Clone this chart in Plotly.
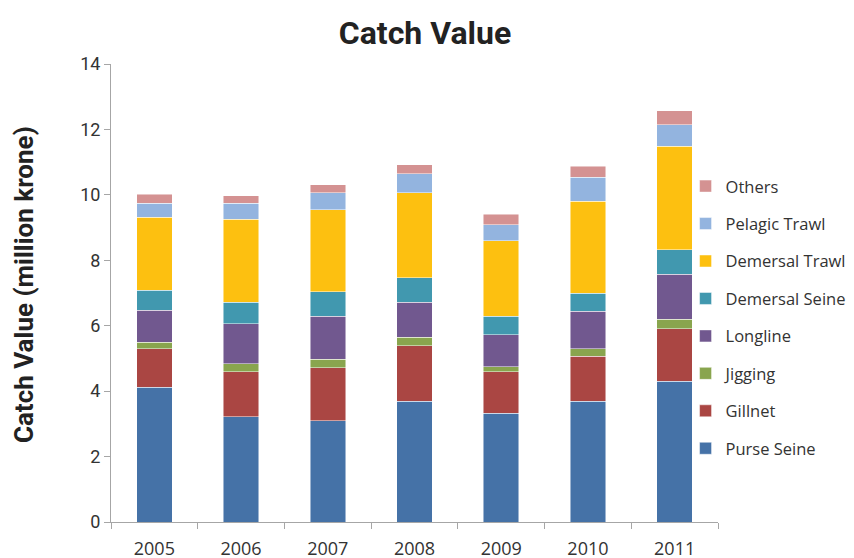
import plotly.graph_objects as go

years = ["2005", "2006", "2007", "2008", "2009", "2010", "2011"]

purse_seine    = [4.12, 3.22, 3.09, 3.69, 3.32, 3.69, 4.30]
gillnet        = [1.18, 1.38, 1.63, 1.70, 1.28, 1.38, 1.61]
jigging        = [0.20, 0.23, 0.26, 0.25, 0.14, 0.23, 0.29]
longline       = [0.97, 1.23, 1.31, 1.08, 0.99, 1.14, 1.37]
demersal_seine = [0.62, 0.65, 0.75, 0.75, 0.56, 0.56, 0.75]
demersal_trawl = [2.23, 2.55, 2.51, 2.60, 2.31, 2.80, 3.16]
pelagic_trawl  = [0.43, 0.49, 0.52, 0.57, 0.48, 0.74, 0.67]
others         = [0.27, 0.23, 0.24, 0.28, 0.33, 0.34, 0.42]

series = [
    ("Purse Seine", purse_seine, "#4572A7"),
    ("Gillnet", gillnet, "#AA4643"),
    ("Jigging", jigging, "#89A54E"),
    ("Longline", longline, "#71588F"),
    ("Demersal Seine", demersal_seine, "#4198AF"),
    ("Demersal Trawl", demersal_trawl, "#FDC010"),
    ("Pelagic Trawl", pelagic_trawl, "#93B4DF"),
    ("Others", others, "#D49292"),
]

BOLD = "Roboto, Liberation Sans, Arial, sans-serif"
REG = "Open Sans, Liberation Sans, Arial, sans-serif"

# page body has an 8px default margin; layout pixel positions compensate for it
OFF = 8
PL, PR, PT, PB = 111 - OFF, 718.6 - OFF, 64 - OFF, 522 - OFF
PW, PH = PR - PL, PB - PT

fig = go.Figure()
n = len(series)
for i, (name, vals, color) in enumerate(series):
    fig.add_trace(go.Bar(
        x=years, y=vals, name=name, legendgroup=name, legendrank=n - i,
        marker=dict(color=color, line=dict(color="rgba(255,255,255,0.6)", width=0.8)),
    ))

fig.update_layout(
    barmode="stack",
    bargap=0.59,
    width=854, height=558,
    margin=dict(l=PL, r=854 - PR, t=PT, b=558 - PB),
    paper_bgcolor="white", plot_bgcolor="white",
    title=dict(text="<b>Catch Value</b>", x=(425 - OFF) / 854, xanchor="center",
               y=1 - (33 - OFF) / 558, yanchor="middle", yref="container",
               font=dict(family=BOLD, size=32, color="#222222")),
    legend=dict(x=0.945, xanchor="left", y=0.771, yanchor="top",
                traceorder="grouped", tracegroupgap=13,
                font=dict(family=REG, size=16.5, color="#333333"),
                bgcolor="rgba(0,0,0,0)"),
    showlegend=True,
    annotations=[dict(
        text="<b>Catch Value (million krone)</b>", textangle=-90,
        xref="paper", yref="paper",
        x=(24 - OFF - PL) / PW, y=(PB - (285 - OFF)) / PH,
        xanchor="center", yanchor="middle", showarrow=False,
        font=dict(family=BOLD, size=26, color="#222222"),
    )],
)

fig.update_xaxes(
    type="category", showline=True, linecolor="#A6A6A6", linewidth=1,
    ticks="outside", ticklen=6, tickcolor="#A6A6A6", tickson="boundaries",
    tickfont=dict(family=REG, size=18, color="#333333"),
    ticklabelstandoff=10, automargin=False,
    showgrid=False, zeroline=False,
)
fig.update_yaxes(
    range=[0, 14], dtick=2, showline=True, linecolor="#A6A6A6", linewidth=1,
    ticks="outside", ticklen=6, tickcolor="#A6A6A6",
    tickfont=dict(family=BOLD, size=18, color="#333333"),
    automargin=False,
    showgrid=False, zeroline=False,
)

fig.write_html("out.html")
